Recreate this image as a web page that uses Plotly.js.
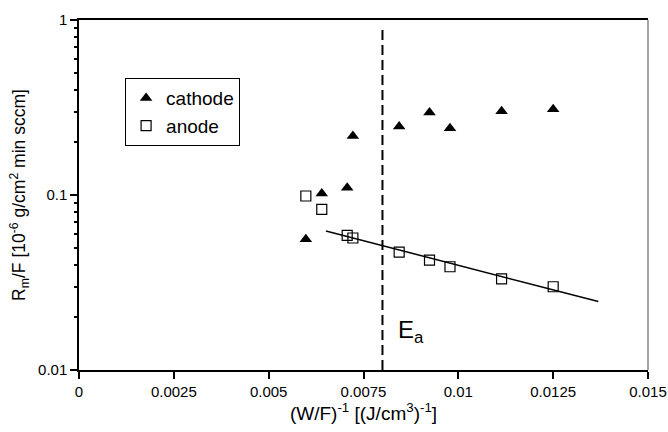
<!DOCTYPE html>
<html>
<head>
<meta charset="utf-8">
<script src="https://cdn.plot.ly/plotly-3.0.1.min.js"></script>
<style>html,body{margin:0;padding:0;background:#fff;}#chart{width:668px;height:432px;}</style>
</head>
<body>
<div id="chart"></div>
<script>
var cathodeX = [0.00598, 0.0064, 0.00707, 0.00722, 0.00844, 0.00924, 0.00978, 0.01114, 0.0125];
var cathodeY = [0.0558, 0.102, 0.110, 0.217, 0.246, 0.296, 0.241, 0.301, 0.309];
var anodeX = [0.00598, 0.0064, 0.00707, 0.00722, 0.00844, 0.00924, 0.00978, 0.01114, 0.0125];
var anodeY = [0.0987, 0.0828, 0.0588, 0.0568, 0.0472, 0.0425, 0.0389, 0.0332, 0.0299];
var fitX = [0.00651, 0.01369];
var fitY = [0.0623, 0.0246];
var eaX = [0.008, 0.008];
var eaY = [0.01, 0.93];
var xTickStep = 0.0025;
var yMinorVals = [0.02, 0.03, 0.04, 0.05, 0.06, 0.07, 0.08, 0.09, 0.2, 0.3, 0.4, 0.5, 0.6, 0.7, 0.8, 0.9];

var traces = [
  {x: cathodeX, y: cathodeY, mode: 'markers', type: 'scatter', name: 'cathode',
   marker: {symbol: 'triangle-up', size: 11, color: '#000'}},
  {x: anodeX, y: anodeY, mode: 'markers', type: 'scatter', name: 'anode',
   marker: {symbol: 'square-open', size: 10, color: '#000', line: {width: 1.2, color: '#000'}}},
  {x: fitX, y: fitY, mode: 'lines', type: 'scatter', showlegend: false,
   line: {color: '#000', width: 1.5}},
  {x: eaX, y: eaY, mode: 'lines', type: 'scatter', showlegend: false,
   line: {color: '#000', width: 2, dash: '10px,5px'}},
  {x: [null], y: [null], yaxis: 'y2', mode: 'markers', type: 'scatter', showlegend: false, hoverinfo: 'skip'}
];

var layout = {
  width: 668, height: 432,
  margin: {l: 79, r: 20, t: 20, b: 62},
  paper_bgcolor: 'white', plot_bgcolor: 'white',
  font: {family: 'Arial', color: 'black', size: 15},
  showlegend: true,
  legend: {x: 0.081, y: 0.834, xanchor: 'left', yanchor: 'top',
           bordercolor: 'black', borderwidth: 1, bgcolor: 'white',
           font: {size: 19}, tracegroupgap: 0, itemwidth: 30},
  xaxis: {
    range: [0, 0.015], tick0: 0, dtick: xTickStep,
    ticks: 'outside', ticklen: 7, tickwidth: 2, tickcolor: 'black',
    showline: true, linecolor: 'black', linewidth: 1.5, mirror: true,
    showgrid: false, zeroline: false,
    tickfont: {size: 15, color: 'black'},
    title: {text: '(W/F)<sup>-1</sup> [(J/cm<sup>3</sup>)<sup>-1</sup>]', font: {size: 19}, standoff: 5}
  },
  yaxis: {
    type: 'log', range: [-2, 0], dtick: 1,
    ticks: 'outside', ticklen: 7, tickwidth: 2, tickcolor: 'black',
    showline: true, linecolor: 'black', linewidth: 1.5,
    showgrid: false, zeroline: false,
    tickfont: {size: 15, color: 'black'},
    title: {text: 'R<sub>m</sub>/F [10<sup>-6</sup> g/cm<sup>2</sup> min sccm]', font: {size: 17.5}, standoff: 8}
  },
  yaxis2: {
    type: 'log', range: [-2, 0], overlaying: 'y', side: 'left', anchor: 'x',
    tickmode: 'array', tickvals: yMinorVals,
    ticks: 'outside', ticklen: 4, tickwidth: 2, tickcolor: 'black',
    showticklabels: false, showline: false, showgrid: false, zeroline: false
  },
  shapes: [
    {type: 'line', xref: 'paper', yref: 'paper', x0: 1, x1: 1, y0: 0, y1: 1,
     line: {color: '#888', width: 1.5}}
  ],
  annotations: [
    {x: 0.00836, y: Math.log10(0.0166), xref: 'x', yref: 'y', text: 'E<sub>a</sub>',
     showarrow: false, xanchor: 'left', yanchor: 'middle', font: {size: 24}}
  ]
};

Plotly.newPlot('chart', traces, layout, {displayModeBar: false});
</script>
</body>
</html>
